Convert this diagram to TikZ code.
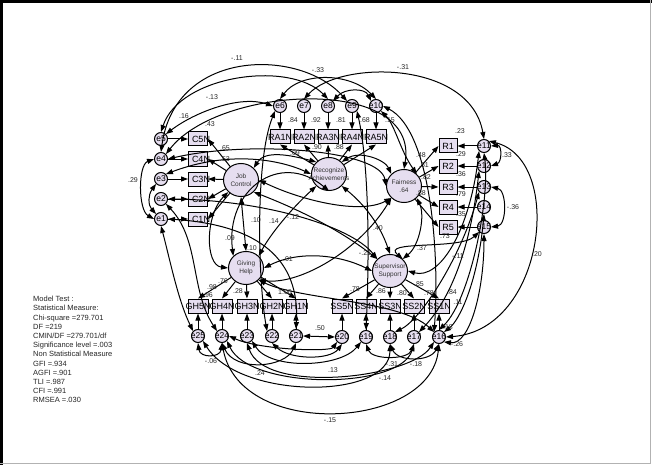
\documentclass[tikz,border=0pt]{standalone}
\usepackage{fontspec}
\setmainfont{Liberation Sans}
\usetikzlibrary{arrows.meta,shapes.geometric}
\definecolor{lav}{RGB}{230,222,240}
\begin{document}
\begin{tikzpicture}[x=1pt,y=-1pt,
  lat/.style={ellipse, draw, fill=lav, minimum width=35pt, minimum height=33pt, inner sep=0pt, line width=1pt},
  obs/.style={rectangle, draw, fill=lav, minimum width=19pt, minimum height=14pt, inner sep=0pt, line width=1pt},
  err/.style={circle, draw, fill=lav, minimum size=13pt, inner sep=0pt, line width=1pt},
  obslbl/.style={font=\fontsize{9}{9}\selectfont, inner sep=0pt},
  errlbl/.style={font=\fontsize{8.5}{9}\selectfont, inner sep=0pt},
  latlbl/.style={font=\fontsize{6.5}{7.5}\selectfont, align=center, inner sep=0pt, text=black!80},
  coef/.style={font=\fontsize{7}{7}\selectfont, text=black!85, inner sep=0pt},
  reg/.style={-{Triangle[length=7pt,width=5pt]}, line width=1pt},
  cov/.style={{Triangle[length=7pt,width=5pt]}-{Triangle[length=7pt,width=5pt]}, line width=1pt}]
\useasboundingbox (0,0) rectangle (652,465);
\fill[white] (0,0) rectangle (652,465);
\draw[line width=3pt] (1.5,0) -- (1.5,465);
\draw[line width=3pt] (0,1.5) -- (652,1.5);
\draw[gray!60, line width=1pt] (650,0) -- (650,463) -- (0,463);

% ---- latent variables
\node[lat, label={[latlbl]center:{Job\\Control}}] (JC) at (241,180) {};
\node[lat, label={[latlbl]center:{Recognize\\Achievements}}] (RC) at (329,174) {};
\node[lat, label={[latlbl]center:{Fairness\\.64}}] (FA) at (404,186) {};
\node[lat, label={[latlbl]center:{Giving\\Help}}] (GH) at (246,268) {};
\node[lat, label={[latlbl]center:{Supervisor\\Support}}] (SS) at (390,271) {};

% ---- Job control block
\foreach \i/\y in {5/139,4/159,3/179,2/199,1/219}{
  \node[err, label={[errlbl]center:e\i}] (e\i) at (161,\y) {};
  \node[obs, label={[obslbl, xshift=3pt]center:C\i N}] (C\i) at (198,\y) {};
}
% ---- Recognize block
\foreach \i/\j/\x in {6/1/280,7/2/304,8/3/328,9/4/352,10/5/376}{
  \node[err, label={[errlbl]center:e\i}] (e\i) at (\x,106) {};
  \node[obs, minimum width=20pt, label={[obslbl]center:RA\j N}] (RA\j) at (\x,137) {};
}
% ---- Fairness block
\foreach \i/\j/\y in {11/1/146,12/2/166,13/3/187,14/4/207,15/5/227}{
  \node[err, label={[errlbl]center:e\i}] (e\i) at (484,\y) {};
  \node[obs, minimum width=18pt, label={[obslbl]center:R\j}] (R\j) at (448,\y) {};
}
% ---- Giving help block
\foreach \i/\j/\x in {25/5/198,24/4/222,23/3/247,22/2/272,21/1/296}{
  \node[err, label={[errlbl]center:e\i}] (e\i) at (\x,336) {};
  \node[obs, minimum width=20pt, label={[obslbl]center:GH\j N}] (GH\j) at (\x,306) {};
}
% ---- Supervisor support block
\foreach \i/\j/\x in {20/5/342,19/4/366,18/3/390,17/2/414,16/1/439}{
  \node[err, label={[errlbl]center:e\i}] (e\i) at (\x,337) {};
  \node[obs, minimum width=20pt, label={[obslbl]center:SS\j N}] (SS\j) at (\x,306) {};
}

% ---- regression paths
\foreach \i in {1,...,5}{
  \draw[reg] (e\i) -- (C\i);
  \draw[reg] (JC) -- (C\i.east);
  \draw[reg] (FA) -- (R\i.west);
  \draw[reg] (GH) -- (GH\i.north);
  \draw[reg] (SS) -- (SS\i.north);
  \draw[reg] (RC) -- (RA\i.south);
}
\foreach \i/\j in {6/1,7/2,8/3,9/4,10/5}{\draw[reg] (e\i) -- (RA\j);}
\foreach \i/\j in {11/1,12/2,13/3,14/4,15/5}{\draw[reg] (e\i) -- (R\j);}
\foreach \i/\j in {25/5,24/4,23/3,22/2,21/1}{\draw[reg] (e\i) -- (GH\j);}
\foreach \i/\j in {20/5,19/4,18/3,17/2,16/1}{\draw[reg] (e\i) -- (SS\j);}

% ---- covariances: top
\draw[cov] (e4.north) .. controls (175,48) and (300,48) .. (e9.north west);
\draw[cov] (e5.north) .. controls (180,75) and (290,60) .. (e8.north);
\draw[cov] (e5.north east) .. controls (195,112) and (240,95) .. (e6.west);
\draw[cov] (e6.north) .. controls (300,72) and (350,72) .. (e10.north);
\draw[cov] (e7.north) .. controls (340,60) and (470,60) .. (e11.north);
\draw[cov] (e8.north east) .. controls (345,88) and (365,88) .. (e10.north west);
\draw[cov] (e4.north east) .. controls (220,85) and (420,75) .. (FA.north);
\draw[cov] (e10.south east) .. controls (395,125) and (400,150) .. (FA.north east);
\draw[cov] (e10.east) .. controls (430,130) and (440,250) .. (e16.north west);
% left
\draw[cov] (e4.west) .. controls (138,165) and (138,210) .. (e1.west);
\draw[cov] (e3.south west) .. controls (148,195) and (148,205) .. (e1.north west);
\draw[cov] (e3.north east) .. controls (230,150) and (280,160) .. (RC.west);
\draw[cov] (e2.east) .. controls (260,200) and (350,225) .. (SS.north west);
\draw[cov] (e4.east) .. controls (250,140) and (380,150) .. (FA.west);
\draw[cov] (e1.east) .. controls (260,225) and (300,260) .. (e21.north);
\draw[cov] (e1.south) .. controls (170,260) and (178,300) .. (e25.north west);
\draw[cov] (e2.south east) .. controls (200,240) and (190,290) .. (e24.north west);
% latent covariances
\draw[cov] (JC.south) -- (GH.north);
\draw[cov] (JC.south west) .. controls (205,215) and (205,265) .. (GH.west);
\draw[cov] (JC.north east) .. controls (265,150) and (290,155) .. (RC.north west);
\draw[cov] (RC.north east) .. controls (360,150) and (385,160) .. (FA.north west);
\draw[cov] (GH.east) .. controls (300,250) and (340,255) .. (SS.west);
\draw[cov] (FA.south east) .. controls (425,215) and (420,245) .. (SS.north east);
\draw[cov] (RC.south east) .. controls (365,205) and (380,225) .. (SS.north);
\draw[cov] (JC.south east) .. controls (300,210) and (340,230) .. (SS.north west);
\draw[cov] (JC.east) .. controls (300,200) and (360,215) .. (FA.south west);
\draw[cov] (RC.south west) .. controls (290,210) and (270,235) .. (GH.north east);
\draw[cov] (FA.south west) .. controls (360,250) and (300,285) .. (GH.south east);
\draw[cov] (GH.north west) .. controls (225,190) and (280,150) .. (RC.south);
\draw[cov] (e6.south west) .. controls (255,160) and (258,280) .. (e22.north west);
\draw[cov] (e9.south east) .. controls (368,160) and (370,240) .. (e19.north);
\draw[cov] (GH.south east) .. controls (300,300) and (400,300) .. (e16.north west);
% right
\draw[cov] (e11.east) .. controls (502,145) and (502,162) .. (e12.east);
\draw[cov] (e13.east) .. controls (507,190) and (507,225) .. (e15.east);
\draw[cov] (e11.north east) .. controls (565,160) and (545,330) .. (e16.east);
\draw[cov] (e11.south west) .. controls (470,230) and (440,280) .. (SS.east);
\draw[cov] (e12.south west) .. controls (470,250) and (450,300) .. (e17.north east);
\draw[cov] (e13.south west) .. controls (460,260) and (420,320) .. (e18.north east);
\draw[cov] (e14.south) .. controls (478,280) and (460,320) .. (e16.north east);
\draw[cov] (e15.south west) .. controls (460,250) and (380,240) .. (SS.north east);
\draw[cov] (e11.south) .. controls (490,200) and (470,300) .. (e16.north);
\draw[cov] (e15.south) .. controls (484,290) and (470,345) .. (e16.south east);
% bottom
\draw[cov] (e25.south) .. controls (200,358) and (220,358) .. (e24.south);
\draw[cov] (e24.south) .. controls (235,372) and (285,368) .. (e21.south);
\draw[cov] (e24.south east) .. controls (250,390) and (400,390) .. (e17.south);
\draw[cov] (e23.south) .. controls (265,395) and (410,378) .. (e16.south west);
\draw[cov] (e24.south) .. controls (240,440) and (430,430) .. (e16.south);
\draw[cov] (e19.south) .. controls (372,360) and (408,360) .. (e17.south);
\draw[cov] (e18.south) .. controls (398,362) and (430,362) .. (e16.south);
\draw[cov] (e21.east) -- (e20.west);
\draw[cov] (e22.south) .. controls (290,360) and (330,360) .. (e20.south);
\draw[cov] (e23.south east) .. controls (270,370) and (340,368) .. (e19.south west);
\draw[cov] (e25.south east) .. controls (240,400) and (390,400) .. (e18.south);
\draw[cov] (e24.east) .. controls (260,350) and (330,352) .. (e20.south west);

% ---- coefficient labels
\node[coef] (k1) at (237,58) {-.11};
\node[coef] (k2) at (318,70) {-.33};
\node[coef] (k3) at (403,67) {-.31};
\node[coef] (k4) at (212,97) {-.13};
\node[coef] (k5) at (184,116) {.16};
\node[coef] (k6) at (210,124) {.43};
\node[coef] (k7) at (225,148) {.65};
\node[coef] (k8) at (225,159) {.53};
\node[coef] (k9) at (133,180) {.29};
\node[coef] (k10) at (293,120) {.84};
\node[coef] (k11) at (316,120) {.92};
\node[coef] (k12) at (341,120) {.81};
\node[coef] (k13) at (365,120) {.68};
\node[coef] (k14) at (390,120) {.15};
\node[coef] (k15) at (295,153) {.09};
\node[coef] (k16) at (317,147) {.90};
\node[coef] (k17) at (339,147) {.88};
\node[coef] (k18) at (460,131) {.23};
\node[coef] (k19) at (421,155) {.48};
\node[coef] (k20) at (424,165) {.51};
\node[coef] (k21) at (426,177) {.82};
\node[coef] (k22) at (421,193) {.88};
\node[coef] (k23) at (461,154) {.29};
\node[coef] (k24) at (461,174) {.36};
\node[coef] (k25) at (461,194) {.79};
\node[coef] (k26) at (461,214) {.35};
\node[coef] (k27) at (445,236) {.73};
\node[coef] (k28) at (507,155) {.33};
\node[coef] (k29) at (513,207) {-.36};
\node[coef] (k30) at (537,254) {.20};
\node[coef] (k31) at (230,238) {.09};
\node[coef] (k32) at (256,220) {.10};
\node[coef] (k33) at (274,221) {.14};
\node[coef] (k34) at (293,217) {-.12};
\node[coef] (k35) at (252,248) {.10};
\node[coef] (k36) at (288,259) {.01};
\node[coef] (k37) at (378,228) {.40};
\node[coef] (k38) at (365,253) {-.21};
\node[coef] (k39) at (422,248) {.37};
\node[coef] (k40) at (458,256) {-.11};
\node[coef] (k41) at (212,287) {.98};
\node[coef] (k42) at (208,295) {.96};
\node[coef] (k43) at (223,281) {.76};
\node[coef] (k44) at (238,291) {.28};
\node[coef] (k45) at (285,292) {1.00};
\node[coef] (k46) at (320,328) {.50};
\node[coef] (k47) at (211,361) {-.06};
\node[coef] (k48) at (260,373) {.24};
\node[coef] (k49) at (333,370) {.13};
\node[coef] (k50) at (385,378) {-.14};
\node[coef] (k51) at (392,364) {-.31};
\node[coef] (k52) at (416,364) {-.18};
\node[coef] (k53) at (330,420) {-.15};
\node[coef] (k54) at (457,344) {-.26};
\node[coef] (k55) at (448,327) {.18};
\node[coef] (k56) at (452,292) {.84};
\node[coef] (k57) at (458,302) {.11};
\node[coef] (k58) at (355,289) {.78};
\node[coef] (k59) at (381,291) {.86};
\node[coef] (k60) at (402,293) {.80};
\node[coef] (k61) at (419,284) {.85};
\node[coef] (k62) at (429,293) {.78};

% ---- fit statistics
\node[anchor=north west, align=left, inner sep=0pt, text=black!85,
      font=\fontsize{7.5}{9.2}\selectfont] (stats) at (33,296) {Model Test :\\
Statistical Measure:\\
Chi-square =279.701\\
DF =219\\
CMIN/DF =279.701/df\\
Significance level =.003\\
Non Statistical Measure\\
GFI =.934\\
AGFI =.901\\
TLI =.987\\
CFI =.991\\
RMSEA =.030};
\end{tikzpicture}
\end{document}
